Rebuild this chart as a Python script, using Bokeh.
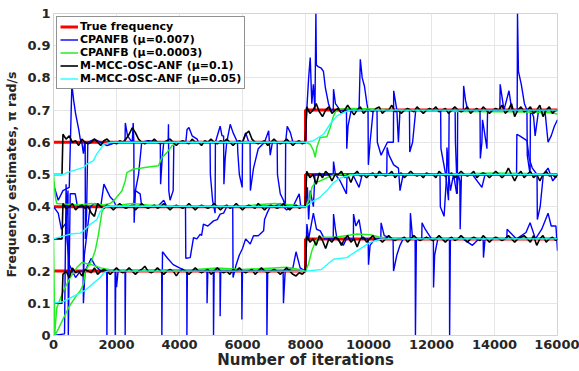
from bokeh.plotting import figure
from bokeh.models import Range1d, FixedTicker
from bokeh.embed import file_html
from bokeh.resources import INLINE

# ---------------- data ----------------
x_ticks = [0, 2000, 4000, 6000, 8000, 10000, 12000, 14000, 16000]
y_ticks = [0, 0.1, 0.2, 0.3, 0.4, 0.5, 0.6, 0.7, 0.8, 0.9, 1]
y_tick_labels = ["0", "0.1", "0.2", "0.3", "0.4", "0.5", "0.6", "0.7", "0.8", "0.9", "1"]

series_names = ["True frequency", "CPANFB (\u03bc=0.007)", "CPANFB (\u03bc=0.0003)",
                "M-MCC-OSC-ANF (\u03bc=0.1)", "M-MCC-OSC-ANF (\u03bc=0.05)"]

# true frequencies
true_x = [0, 8000, 8000, 16000]
true_lo = [0.2, 0.2, 0.3, 0.3]
true_mid = [0.4, 0.4, 0.5, 0.5]
true_hi = [0.6, 0.6, 0.7, 0.7]

# CPANFB mu=0.007 (blue), (iteration, estimate)
blue_hi = [(0,0.47),(150,0.42),(300,0.45),(500,0.46),(583,0.78),(640,0.73),(700,0.69),(800,0.64),(850,0.61),(900,0.60),
    (950,0.565),(990,0.60),(1006,0.60),(1012,0.30),(1050,0.38),(1090,0.60),(1300,0.61),(1500,0.60),(1700,0.59),(2000,0.60),
    (2270,0.60),(2280,0.66),(2350,0.62),(2500,0.60),(2530,0.66),(2550,0.60),(2560,0.35),(2600,0.45),(2700,0.50),(2800,0.60),
    (3000,0.605),(3390,0.60),(3400,0.47),(3450,0.55),(3500,0.60),(3640,0.60),(3650,0.656),(3660,0.45),(3700,0.42),(3800,0.45),
    (3820,0.60),(4200,0.60),(4240,0.64),(4300,0.646),(4400,0.62),(4560,0.61),(4600,0.60),(4970,0.60),(4980,0.50),(5050,0.42),
    (5130,0.38),(5140,0.60),(5290,0.65),(5350,0.62),(5400,0.62),(5410,0.47),(5450,0.55),(5500,0.60),(5610,0.656),(5700,0.63),
    (5840,0.60),(5850,0.57),(5900,0.50),(5990,0.46),(6000,0.60),(6100,0.63),(6200,0.60),(6240,0.60),(6250,0.45),(6350,0.52),
    (6500,0.58),(6700,0.60),(6830,0.636),(6880,0.56),(6950,0.60),(7100,0.60),(7110,0.50),(7200,0.44),(7300,0.42),(7360,0.40),
    (7370,0.60),(7420,0.65),(7520,0.63),(7600,0.60),(7800,0.60),(7990,0.60),
    (8000,0.60),(8040,0.70),(8100,0.80),(8150,0.863),(8200,0.72),(8250,0.78),(8300,0.70),(8330,1.0),(8345,0.84),(8400,0.835),
    (8500,0.83),(8570,0.82),(8630,0.77),(8730,0.72),(8800,0.70),(8880,0.70),(8890,0.765),(8950,0.72),(9100,0.70),(9300,0.70),
    (9310,0.58),(9350,0.65),(9450,0.70),(9700,0.70),(9740,0.858),(9800,0.80),(9870,0.775),(9950,0.72),(9985,0.70),(9995,0.53),
    (10050,0.60),(10150,0.70),(10270,0.70),(10280,0.60),(10400,0.56),(10600,0.60),(10790,0.60),(10800,0.76),(10900,0.70),(10950,0.60),
    (11000,0.70),(11300,0.70),(11310,0.57),(11400,0.60),(11500,0.70),(12000,0.70),(12290,0.70),(12300,0.58),(12450,0.50),(12540,0.42),
    (12560,0.70),(12750,0.70),(12760,0.60),(12820,0.44),(12830,0.70),(13010,0.70),(13020,0.775),(13080,0.73),(13150,0.70),(13540,0.70),
    (13550,0.55),(13600,0.60),(13620,0.67),(13700,0.62),(13760,0.58),(13780,0.70),(14170,0.70),(14180,0.78),(14300,0.70),(14460,0.76),
    (14550,0.70),(14720,0.70),(14730,1.0),(14760,0.82),(14850,0.78),(14950,0.72),(15030,0.70),(15040,0.56),(15130,0.50),(15140,0.70),
    (15240,0.68),(15290,0.62),(15400,0.70),(15600,0.70),(15700,0.60),(15800,0.62),(15900,0.65),(16000,0.67)]

blue_mid = [(0,0.40),(150,0.38),(250,0.33),(400,0.35),(460,0.45),(470,0.0),(530,0.44),(600,0.44),(690,0.44),(760,0.40),
    (900,0.40),(945,0.40),(950,0.18),(980,0.25),(1100,0.35),(1165,0.40),(1300,0.41),(1500,0.40),(1600,0.47),(1700,0.45),
    (1800,0.43),(1900,0.42),(2000,0.40),(2200,0.40),(2540,0.40),(2600,0.45),(2750,0.44),(2800,0.40),(3000,0.40),(3300,0.40),
    (3500,0.42),(3600,0.40),(3900,0.40),(4190,0.40),(4200,0.24),(4340,0.242),(4445,0.304),(4550,0.30),(4660,0.315),(4700,0.31),
    (4760,0.346),(4900,0.34),(5080,0.356),(5200,0.36),(5290,0.377),(5400,0.38),(5500,0.40),(5690,0.40),(5700,0.18),(5800,0.22),
    (5900,0.25),(6000,0.27),(6100,0.30),(6245,0.284),(6350,0.31),(6500,0.31),(6670,0.325),(6700,0.36),(6780,0.38),(6880,0.40),
    (7000,0.40),(7200,0.41),(7400,0.39),(7600,0.40),(7800,0.44),(7850,0.40),(7990,0.40),
    (8000,0.40),(8060,0.46),(8100,0.36),(8150,0.45),(8250,0.40),(8300,0.50),(8600,0.50),(8880,0.50),(8890,0.54),(8950,0.50),
    (9100,0.48),(9300,0.44),(9320,0.50),(9500,0.50),(9700,0.46),(9800,0.50),(10000,0.50),(10300,0.50),(10580,0.50),(10590,0.584),
    (10650,0.56),(10800,0.53),(10950,0.52),(11000,0.45),(11100,0.50),(11500,0.50),(12000,0.50),(12270,0.50),(12280,0.40),(12400,0.37),
    (12480,0.50),(12490,0.584),(12550,0.50),(12600,0.45),(12700,0.50),(12800,0.44),(12850,0.50),(12900,0.48),(12910,0.33),(12950,0.50),
    (13300,0.50),(13600,0.46),(13700,0.50),(14000,0.50),(14700,0.50),(14710,0.625),(14800,0.62),(15030,0.605),(15100,0.55),(15200,0.52),
    (15350,0.50),(15360,0.36),(15450,0.40),(15550,0.50),(15700,0.52),(15850,0.48),(16000,0.50)]

blue_lo = [(0,0.0),(350,0.005),(370,0.2),(400,0.47),(430,0.3),(500,0.22),(600,0.2),(700,0.18),(850,0.2),(940,0.2),
    (950,0.1),(1000,0.2),(1200,0.24),(1300,0.22),(1500,0.2),(1690,0.2),(1695,0.0),(1710,0.2),(1955,0.2),(1960,0.0),
    (1975,0.2),(2000,0.15),(2050,0.2),(2270,0.2),(2275,0.0),(2290,0.2),(2500,0.2),(3000,0.2),(3435,0.2),(3440,0.0),
    (3460,0.26),(3620,0.24),(3800,0.22),(4000,0.21),(4230,0.2),(4235,0.0),(4250,0.2),(4500,0.2),(4870,0.2),(4875,0.1),
    (4900,0.2),(5075,0.2),(5080,0.0),(5100,0.2),(5285,0.2),(5290,0.06),(5310,0.2),(5700,0.2),(5975,0.2),(5980,0.05),
    (6000,0.2),(6200,0.2),(6770,0.2),(6775,0.0),(6800,0.2),(7000,0.2),(7290,0.2),(7300,0.1),(7355,0.2),(7600,0.21),
    (7700,0.26),(7830,0.21),(7990,0.2),
    (8000,0.2),(8045,0.346),(8100,0.30),(8250,0.38),(8350,0.33),(8470,0.325),(8600,0.30),(8880,0.30),(8890,0.377),(8950,0.33),
    (9000,0.30),(9200,0.28),(9300,0.30),(9520,0.30),(9525,0.377),(9600,0.34),(9700,0.36),(9800,0.30),(9990,0.30),(10000,0.22),
    (10050,0.28),(10200,0.30),(10390,0.30),(10400,0.35),(10500,0.31),(10780,0.30),(10795,0.20),(10900,0.25),(11000,0.28),(11100,0.30),
    (11320,0.30),(11330,0.38),(11400,0.30),(11480,0.30),(11490,0.0),(11520,0.30),(11690,0.30),(11700,0.35),(11800,0.33),(12000,0.30),
    (12060,0.30),(12065,0.149),(12100,0.25),(12200,0.30),(12570,0.30),(12575,0.0),(12600,0.30),(13000,0.30),(13300,0.28),(13500,0.30),
    (13640,0.30),(13650,0.242),(13700,0.30),(14000,0.30),(14390,0.30),(14400,0.33),(14700,0.30),(15000,0.32),(15130,0.35),(15300,0.30),
    (15500,0.33),(15700,0.38),(15800,0.34),(15950,0.34),(16000,0.263)]

# CPANFB mu=0.0003 (green)
green_hi = [(0,0.5),(60,0.43),(100,0.41),(400,0.408),(800,0.405),(1200,0.41),(1600,0.405),(1800,0.41),(1905,0.418),(2012,0.43),
    (2171,0.449),(2276,0.48),(2330,0.506),(2540,0.517),(2800,0.52),(3070,0.524),(3333,0.527),(3441,0.553),(3600,0.568),(3759,0.589),
    (3917,0.60),(4500,0.602),(6000,0.601),(8000,0.60),(8149,0.594),(8254,0.574),(8307,0.553),(8360,0.584),(8466,0.615),(8678,0.617),
    (8784,0.646),(8890,0.682),(8997,0.703),(9500,0.705),(11000,0.70),(12000,0.697),(13000,0.696),(14000,0.695),(15000,0.694),(15800,0.692),
    (16000,0.688)]
green_mid = [(0,0.3),(40,0.0),(150,0.02),(300,0.05),(500,0.09),(700,0.12),(850,0.139),(952,0.16),(1006,0.20),(1165,0.225),
    (1220,0.235),(1323,0.263),(1430,0.315),(1483,0.35),(1540,0.385),(1600,0.395),(1700,0.40),(2500,0.41),(3000,0.405),(4000,0.402),
    (6000,0.402),(7000,0.41),(7600,0.405),(8000,0.40),(8149,0.429),(8202,0.46),(8307,0.475),(8466,0.48),(8678,0.49),(8890,0.499),
    (10000,0.50),(12000,0.50),(13000,0.502),(14000,0.505),(15000,0.503),(16000,0.50)]
green_lo = [(0,0.1),(30,0.0),(107,0.087),(317,0.139),(530,0.18),(743,0.211),(900,0.227),(1200,0.22),(1500,0.21),(2000,0.20),
    (4500,0.205),(5200,0.21),(6000,0.205),(7000,0.21),(7400,0.212),(7800,0.205),(8000,0.20),(8095,0.222),(8202,0.263),(8307,0.289),
    (8413,0.305),(9000,0.306),(9632,0.315),(10054,0.313),(10371,0.305),(11000,0.30),(16000,0.30)]

# M-MCC-OSC-ANF mu=0.1 (black): iterations sampled every 100 after start
black_x = [0, 270] + list(range(300, 8000, 100)) + [7990] + list(range(8040, 16000, 100)) + [16000]
black_hi = [0.5, 0.5,
    0.625, 0.61, 0.62, 0.60, 0.605, 0.59, 0.61, 0.60,
    0.595, 0.60, 0.61, 0.60, 0.59, 0.605, 0.61, 0.60, 0.60, 0.595,
    0.605, 0.60, 0.61, 0.625, 0.645, 0.63, 0.61, 0.60, 0.595, 0.605,
    0.60, 0.61, 0.60, 0.595, 0.60, 0.605, 0.61, 0.60, 0.59, 0.60,
    0.605, 0.60, 0.595, 0.61, 0.60, 0.60, 0.59, 0.605, 0.60, 0.61,
    0.60, 0.595, 0.605, 0.60, 0.61, 0.60, 0.59, 0.60, 0.605, 0.60,
    0.625, 0.635, 0.61, 0.60, 0.595, 0.60, 0.605, 0.59, 0.60, 0.61,
    0.60, 0.595, 0.60, 0.61, 0.60, 0.59, 0.60, 0.605, 0.595,
    0.60,
    0.71, 0.69, 0.70, 0.72, 0.695, 0.68, 0.70, 0.71, 0.69, 0.70,
    0.705, 0.69, 0.70, 0.715, 0.70, 0.685, 0.70, 0.71, 0.69, 0.70,
    0.70, 0.695, 0.705, 0.71, 0.69, 0.70, 0.70, 0.715, 0.695, 0.70,
    0.69, 0.70, 0.705, 0.70, 0.695, 0.71, 0.70, 0.69, 0.70, 0.705,
    0.70, 0.71, 0.695, 0.70, 0.705, 0.69, 0.70, 0.71, 0.70, 0.695,
    0.70, 0.71, 0.69, 0.70, 0.705, 0.695, 0.71, 0.70, 0.69, 0.70,
    0.705, 0.70, 0.715, 0.69, 0.70, 0.72, 0.68, 0.70, 0.71, 0.695,
    0.70, 0.71, 0.69, 0.70, 0.715, 0.68, 0.70, 0.71, 0.69, 0.70,
    0.70]
black_mid = [0.3, 0.3,
    0.41, 0.395, 0.40, 0.41, 0.39, 0.40, 0.405, 0.395,
    0.40, 0.38, 0.37, 0.41, 0.40, 0.395, 0.405, 0.40, 0.39, 0.40,
    0.41, 0.40, 0.395, 0.40, 0.405, 0.39, 0.40, 0.41, 0.40, 0.395,
    0.40, 0.405, 0.395, 0.40, 0.41, 0.40, 0.39, 0.40, 0.405, 0.40,
    0.395, 0.40, 0.41, 0.40, 0.39, 0.40, 0.405, 0.40, 0.395, 0.40,
    0.41, 0.40, 0.39, 0.40, 0.405, 0.395, 0.40, 0.41, 0.40, 0.39,
    0.40, 0.405, 0.40, 0.395, 0.41, 0.40, 0.39, 0.40, 0.405, 0.40,
    0.395, 0.40, 0.41, 0.40, 0.39, 0.40, 0.405, 0.395, 0.40,
    0.40,
    0.51, 0.49, 0.50, 0.47, 0.505, 0.49, 0.51, 0.50, 0.48, 0.50,
    0.50, 0.51, 0.49, 0.50, 0.475, 0.50, 0.51, 0.495, 0.50, 0.49,
    0.50, 0.505, 0.49, 0.51, 0.50, 0.495, 0.50, 0.51, 0.49, 0.50,
    0.505, 0.49, 0.50, 0.51, 0.50, 0.495, 0.50, 0.49, 0.505, 0.50,
    0.50, 0.49, 0.51, 0.50, 0.495, 0.50, 0.505, 0.49, 0.50, 0.51,
    0.50, 0.495, 0.50, 0.51, 0.49, 0.50, 0.505, 0.50, 0.49, 0.50,
    0.51, 0.50, 0.49, 0.50, 0.52, 0.50, 0.48, 0.50, 0.51, 0.49,
    0.50, 0.51, 0.49, 0.50, 0.48, 0.50, 0.51, 0.495, 0.50, 0.49,
    0.50]
black_lo = [0.1, 0.1,
    0.19, 0.20, 0.18, 0.21, 0.195, 0.20, 0.185, 0.205,
    0.20, 0.195, 0.21, 0.19, 0.20, 0.205, 0.20, 0.19, 0.20, 0.21,
    0.20, 0.195, 0.20, 0.21, 0.20, 0.19, 0.20, 0.205, 0.215, 0.20,
    0.195, 0.20, 0.21, 0.20, 0.19, 0.20, 0.205, 0.20, 0.185, 0.20,
    0.205, 0.20, 0.19, 0.20, 0.21, 0.20, 0.195, 0.20, 0.205, 0.19,
    0.20, 0.21, 0.20, 0.195, 0.20, 0.19, 0.205, 0.20, 0.21, 0.20,
    0.195, 0.20, 0.205, 0.19, 0.20, 0.21, 0.20, 0.195, 0.20, 0.205,
    0.20, 0.19, 0.20, 0.21, 0.20, 0.19, 0.185, 0.195, 0.19,
    0.20,
    0.31, 0.29, 0.30, 0.28, 0.31, 0.295, 0.27, 0.30, 0.29, 0.305,
    0.30, 0.28, 0.30, 0.31, 0.29, 0.30, 0.275, 0.30, 0.305, 0.29,
    0.30, 0.31, 0.295, 0.30, 0.29, 0.30, 0.31, 0.30, 0.295, 0.30,
    0.30, 0.305, 0.29, 0.30, 0.31, 0.30, 0.295, 0.30, 0.305, 0.30,
    0.295, 0.30, 0.31, 0.30, 0.29, 0.30, 0.305, 0.295, 0.30, 0.31,
    0.30, 0.29, 0.30, 0.305, 0.30, 0.295, 0.31, 0.30, 0.29, 0.30,
    0.305, 0.30, 0.295, 0.30, 0.31, 0.30, 0.29, 0.30, 0.305, 0.31,
    0.30, 0.29, 0.31, 0.28, 0.30, 0.31, 0.29, 0.30, 0.305, 0.295,
    0.30]

# M-MCC-OSC-ANF mu=0.05 (cyan)
cyan_hi = [(0,0.5),(317,0.5),(423,0.506),(952,0.522),(1060,0.532),(1270,0.543),(1377,0.565),(1483,0.578),(1587,0.594),(1800,0.60),
    (8000,0.60),(8254,0.605),(8571,0.625),(8784,0.657),(8997,0.682),(9206,0.692),(9419,0.70),(16000,0.70)]
cyan_mid = [(0,0.3),(530,0.315),(847,0.318),(952,0.325),(1165,0.345),(1377,0.36),(1483,0.385),(1587,0.397),(1700,0.402),(8000,0.40),
    (8254,0.418),(8467,0.43),(8679,0.45),(8890,0.475),(9101,0.489),(9365,0.496),(9600,0.50),(16000,0.50)]
cyan_lo = [(0,0.1),(300,0.105),(600,0.12),(1000,0.14),(1300,0.165),(1483,0.18),(1600,0.195),(1700,0.20),(8000,0.20),(8500,0.205),
    (8890,0.237),(9314,0.242),(9632,0.263),(10054,0.289),(10371,0.299),(10600,0.30),(16000,0.30)]


def split(track):
    return [pt[0] for pt in track], [pt[1] for pt in track]


# ---------------- figure ----------------
FONT = "DejaVu Sans"
p = figure(width=579, height=371, output_backend="svg", toolbar_location=None,
           x_range=Range1d(0, 16000), y_range=Range1d(0, 1),
           min_border_left=53, min_border_right=22, min_border_top=13, min_border_bottom=36)
p.background_fill_color = "white"
p.border_fill_color = "white"
p.outline_line_color = "#d4d4d4"

p.multi_line(xs=[true_x, true_x, true_x], ys=[true_lo, true_mid, true_hi],
             line_color="#ff0000", line_width=3, legend_label=series_names[0])

bx, by = zip(*[split(t) for t in (blue_lo, blue_mid, blue_hi)])
p.multi_line(xs=list(bx), ys=list(by), line_color="#0000ff", line_width=1.4,
             legend_label=series_names[1])

gx, gy = zip(*[split(t) for t in (green_lo, green_mid, green_hi)])
p.multi_line(xs=list(gx), ys=list(gy), line_color="#22ee22", line_width=1.5,
             legend_label=series_names[2])

p.multi_line(xs=[black_x, black_x, black_x], ys=[black_lo, black_mid, black_hi],
             line_color="black", line_width=1.6, legend_label=series_names[3])

cx, cy = zip(*[split(t) for t in (cyan_lo, cyan_mid, cyan_hi)])
p.multi_line(xs=list(cx), ys=list(cy), line_color="#22ffff", line_width=1.4,
             legend_label=series_names[4])

# axes
p.xaxis.ticker = FixedTicker(ticks=x_ticks)
p.yaxis.ticker = FixedTicker(ticks=y_ticks)
p.yaxis.major_label_overrides = {t: l for t, l in zip(y_ticks, y_tick_labels)}
p.xaxis.axis_label = "Number of iterations"
p.yaxis.axis_label = "Frequency estimates, \u03c0 rad/s"
for ax in (p.xaxis, p.yaxis):
    ax.axis_line_color = "#d4d4d4"
    ax.major_tick_line_color = None
    ax.minor_tick_line_color = None
    ax.major_tick_in = 0
    ax.major_tick_out = 0
    ax.minor_tick_in = 0
    ax.minor_tick_out = 0
    ax.major_label_text_font = FONT
    ax.major_label_text_font_style = "bold"
    ax.major_label_text_font_size = "13px"
    ax.major_label_text_color = "#262626"
    ax.axis_label_text_font = FONT
    ax.axis_label_text_font_style = "bold"
    ax.axis_label_text_color = "#262626"
p.xaxis.axis_label_text_font_size = "15px"
p.yaxis.axis_label_text_font_size = "12.5px"
p.xaxis.major_label_standoff = 4
p.yaxis.major_label_standoff = 3
p.xaxis.axis_label_standoff = -1
p.yaxis.axis_label_standoff = 5

p.xgrid.grid_line_color = "#e6e6e6"
p.ygrid.grid_line_color = "#e6e6e6"

leg = p.legend[0]
leg.location = "top_left"
leg.margin = 3
leg.padding = 3
leg.spacing = 0
leg.glyph_width = 18
leg.glyph_height = 11
leg.label_height = 11
leg.label_standoff = 2
leg.label_text_font = FONT
leg.label_text_font_style = "bold"
leg.label_text_font_size = "11px"
leg.label_text_line_height = 1.0
leg.label_text_color = "black"
leg.border_line_color = "#262626"
leg.border_line_width = 1
leg.background_fill_alpha = 1

open("out.html", "w").write(file_html(p, INLINE))
